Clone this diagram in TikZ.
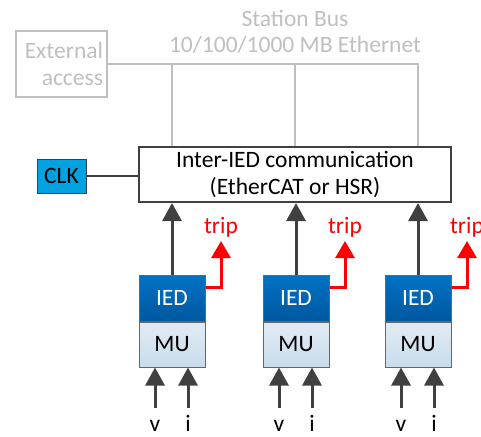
\documentclass[tikz,border=0pt]{standalone}
\usepackage{fontspec}
\setmainfont{Carlito}
\usetikzlibrary{arrows.meta,positioning}
\definecolor{busgray}{HTML}{BFBFBF}
\definecolor{dark}{HTML}{404040}
\definecolor{iedtop}{HTML}{0072C4}
\definecolor{iedbot}{HTML}{0058A0}
\definecolor{mutop}{HTML}{E2EBF4}
\definecolor{mubot}{HTML}{C9DCEC}
\definecolor{clkblue}{HTML}{00A2E0}
\begin{document}
\begin{tikzpicture}[x=1pt,y=-1pt,
  txt/.style={font=\fontsize{23.5}{26.5}\selectfont},
  graybox/.style={draw=busgray,line width=2.5pt,txt,text=busgray,inner sep=0pt,align=right},
  busline/.style={draw=busgray,line width=2.5pt},
  commbox/.style={draw=dark,line width=2pt,fill=white,txt,align=center,inner sep=0pt,minimum width=312pt,minimum height=55pt},
  clkbox/.style={draw=dark,line width=1pt,fill=clkblue,txt,inner sep=0pt,minimum width=49pt,minimum height=34pt},
  iedbox/.style={draw=dark!80,line width=1pt,top color=iedtop,bottom color=iedbot,text=white,txt,inner sep=0pt,minimum width=66pt,minimum height=46pt},
  mubox/.style={draw=dark!80,line width=1pt,top color=mutop,bottom color=mubot,text=black,txt,inner sep=0pt,minimum width=66pt,minimum height=45pt},
  darrow/.style={draw=dark,line width=3pt,-{Triangle[width=19pt,length=18pt]}},
  tripline/.style={draw=red,line width=3pt,-{Triangle[width=19pt,length=17pt]}},
  triplabel/.style={txt,text=red,inner sep=0pt,anchor=base},
  sig/.style={txt,inner sep=0pt,anchor=base}]
\useasboundingbox (0,0) rectangle (481,436);
\clip (0,0) rectangle (481,436);
% station bus
\node[graybox,minimum width=91pt,minimum height=66pt,text width=83pt] (ext) at (61.5,64) {External\\access};
\node[txt,text=busgray,align=center] (buslabel) at (295,32) {Station Bus\\10/100/1000 MB Ethernet};
\node[commbox] (comm) at (295,174.5) {Inter-IED communication\\(EtherCAT or HSR)};
\coordinate (b1) at (172,64);
\coordinate (b2) at (295,64);
\coordinate (b3) at (418,64);
\draw[busline] (ext.east) -- (b3) -- (comm.north -| b3);
\draw[busline] (b1) -- (comm.north -| b1);
\draw[busline] (b2) -- (comm.north -| b2);
% clock
\node[clkbox] (clk) at (61.5,176) {CLK};
\draw[draw=dark,line width=2.5pt] (clk.east) -- (clk.east -| comm.west);
% IED / MU units
\foreach \n/\cx in {1/172,2/296,3/418}{
  \node[iedbox] (ied\n) at (\cx,298) {IED};
  \node[mubox,anchor=north] (mu\n) at (ied\n.south) {MU};
  \draw[darrow] (ied\n.north) -- (comm.south -| ied\n.north);
  \coordinate (tr\n) at ([yshift=11pt]ied\n.east);
  \coordinate (tt\n) at ([xshift=15.5pt]ied\n.east |- 0,241);
  \draw[tripline] (tr\n) -| (tt\n);
  \node[triplabel] (trip\n) at ([yshift=8pt]tt\n) {trip};
  \coordinate (v\n) at (\cx-17,408);
  \coordinate (i\n) at (\cx+16,408);
  \draw[darrow] (v\n) -- (mu\n.south -| v\n);
  \draw[darrow] (i\n) -- (mu\n.south -| i\n);
  \node[sig] (vl\n) at (\cx-17,431) {v};
  \node[sig] (il\n) at (\cx+16,431) {i};
}
\end{tikzpicture}
\end{document}
